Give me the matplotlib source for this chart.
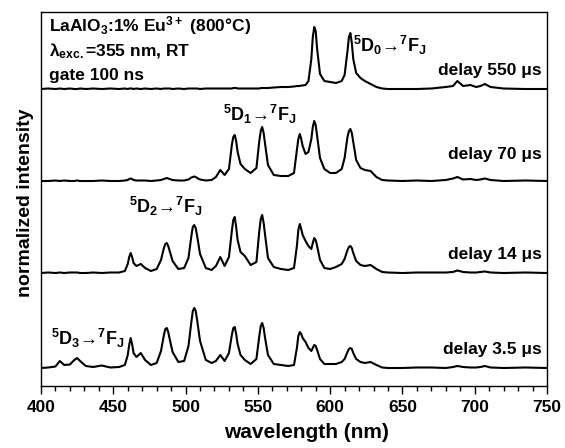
import numpy as np
import matplotlib.pyplot as plt
from matplotlib.ticker import MultipleLocator

plt.rcParams['font.family'] = ['Liberation Sans', 'DejaVu Sans']
plt.rcParams['font.weight'] = 'bold'
plt.rcParams['mathtext.default'] = 'regular'

# wavelength grid (nm), shared by all spectra
wavelength = [400, 405, 410, 413, 416, 420, 423, 425, 427, 431,
              436, 442, 448, 454, 458, 460, 461, 462, 463, 464,
              466, 469, 472, 476, 480, 483, 485, 486, 487, 488,
              489, 491, 495, 499, 502, 504, 505, 506, 507, 508,
              510, 514, 518, 521, 524, 527, 530, 532, 533, 534,
              535, 536, 538, 541, 545, 549, 551, 552, 553, 554,
              555, 557, 561, 566, 571, 575, 577, 578, 579, 580,
              581, 583, 585, 587, 588, 589, 590, 591, 593, 596,
              600, 604, 608, 610, 612, 613, 614, 615, 616, 618,
              621, 624, 628, 632, 636, 640, 650, 660, 670, 680,
              685, 688, 692, 697, 701, 704, 707, 711, 720, 735,
              750]

# normalized intensity (arb. units)
delay_3_5us = [0, 0.5, 1.5, 7, 3, 3.5, 8, 10, 7, 2,
               1, 2.5, 0.5, 1, 3, 13, 23, 30, 24, 15,
               11, 15, 8, 3, 5, 17, 33, 39, 40, 36,
               29, 16, 6, 7, 22, 46, 57, 60, 57, 48,
               27, 8, 5, 7, 13, 7, 15, 33, 40, 41,
               34, 24, 13, 8, 4, 9, 32, 42, 45, 40,
               30, 13, 4, 3, 2, 3, 20, 32, 36, 34,
               30, 26, 20, 17, 20, 23, 22, 18, 9, 4,
               4, 4, 6, 9, 16, 19, 20, 19, 15, 9,
               6, 5, 6, 3, 0.5, 0, 0, 0.5, 0.5, 0,
               1, 2, 1, 0.5, 0.5, 1, 2, 0.5, 0, 0.5,
               0]
delay_14us = [0, 0.5, 0, 0.5, 0, 0.5, 0.5, 0.5, 0, 0,
              0.5, 0, 0.5, 0.5, 2, 9, 16, 20, 16, 10,
              7, 9, 5, 2, 4, 13, 25, 29, 30, 27,
              22, 12, 4, 5, 15, 37, 46, 48, 45, 37,
              19, 5, 3, 7, 16, 7, 16, 42, 53, 56,
              46, 33, 21, 17, 8, 11, 42, 54, 58, 50,
              38, 15, 6, 4, 3, 5, 27, 43, 49, 44,
              38, 32, 27, 24, 30, 35, 33, 27, 13, 5,
              4, 6, 9, 14, 23, 26, 27, 25, 20, 12,
              8, 7, 8, 4, 1, 0.5, 0, 0.5, 0.5, 0.5,
              1, 2.5, 1, 0.5, 0.5, 1, 1.5, 0.5, 0, 0.5,
              0]
delay_70us = [0, 0, 0.5, 0, 0.5, 0, 0, 0.5, 0, 0,
              0, 0.5, 0, 0, 0.5, 1, 2, 2.5, 2, 1,
              0.5, 0.5, 0.5, 0, 0.5, 1, 2, 2.5, 3, 2.5,
              2, 1, 0.5, 0.5, 1.5, 3.5, 4, 4.5, 4, 3,
              1.5, 0.5, 1, 4, 11, 6, 12, 36, 44, 46,
              40, 29, 17, 12, 8, 13, 40, 50, 54, 48,
              37, 16, 6, 5, 5, 8, 31, 42, 47, 42,
              35, 27, 29, 42, 54, 60, 56, 45, 23, 12,
              8, 8, 12, 23, 44, 50, 52, 48, 39, 21,
              13, 11, 10, 4, 1, 0.5, 0, 0.5, 0, 1,
              2.5, 4, 1.5, 2, 1, 1.5, 2.5, 1, 0, 0.5,
              0]
delay_550us = [0, 0.5, 0, 0.5, 0, 0.5, 0, 0, 0.5, 0,
               0.5, 0, 0.5, 0, 0.5, 0, 0.5, 0.5, 0.5, 0,
               0.5, 0, 0.5, 0, 0.5, 0, 0.5, 0.5, 0.5, 0.5,
               0.5, 0, 0.5, 0, 0.5, 0.5, 0.5, 0.5, 0.5, 0.5,
               0, 0.5, 0.5, 0.5, 0.5, 0.5, 0.5, 0.5, 1, 1,
               1, 0.5, 0.5, 0.5, 0.5, 0.5, 0.5, 1, 1, 1,
               1, 1, 1.5, 2, 2, 2.5, 3, 3, 3, 3.5,
               3.5, 4, 8, 30, 52, 62, 58, 40, 15, 8,
               7, 6, 8, 14, 38, 52, 56, 46, 30, 16,
               11, 8, 5, 2, 0.5, 0, 0, 0, 0.5, 2,
               3, 8, 3, 4, 2, 3, 5, 2, 0.5, 0,
               0]

spectra = [delay_3_5us, delay_14us, delay_70us, delay_550us]
delay_labels = ['delay 3.5 μs', 'delay 14 μs', 'delay 70 μs', 'delay 550 μs']
transitions = [r'$^5$D$_3$→$^7$F$_J$', r'$^5$D$_2$→$^7$F$_J$',
               r'$^5$D$_1$→$^7$F$_J$', r'$^5$D$_0$→$^7$F$_J$']

# vertical stacking of the traces and label placement
offsets = [18, 113, 205, 297]
label_y = [32, 126.7, 226.7, 311]
trans_xy = [(406.7, 41), (461, 172.7), (525.6, 265.3), (615.6, 334.3)]

fig = plt.figure(figsize=(5.65, 4.48), dpi=100)
ax = fig.add_axes([0.0726, 0.1384, 0.8955, 0.8348])

for spec, off, lab, ly, tr, txy in zip(spectra, offsets, delay_labels,
                                        label_y, transitions, trans_xy):
    ax.plot(wavelength, np.array(spec) + off, color='black', lw=1.5)
    ax.text(746.3, ly, lab, ha='right', va='baseline', fontsize=12.5,
            fontweight='bold')
    ax.text(txy[0], txy[1], tr, ha='left', va='baseline', fontsize=13,
            fontweight='bold')

ax.text(405.5, 355, r'LaAlO$_3$:1% Eu$^{3+}$ (800°C)', ha='left',
        va='baseline', fontsize=12.5, fontweight='bold')
ax.text(405.5, 329.3, r'λ$_{exc.}$=355 nm, RT', ha='left', va='baseline',
        fontsize=12.5, fontweight='bold')
ax.text(405.5, 306, 'gate 100 ns', ha='left', va='baseline', fontsize=12.5,
        fontweight='bold')

ax.set_xlim(400, 750)
ax.set_ylim(0, 374)
ax.xaxis.set_major_locator(MultipleLocator(50))
ax.xaxis.set_minor_locator(MultipleLocator(10))
ax.set_yticks([])
ax.tick_params(axis='x', which='major', direction='out', length=6,
               width=1, labelsize=12.5, pad=4)
ax.tick_params(axis='x', which='minor', direction='out', length=3.5, width=1)
for lbl in ax.get_xticklabels():
    lbl.set_fontweight('bold')
for sp in ax.spines.values():
    sp.set_linewidth(1.0)

ax.set_xlabel('wavelength (nm)', fontsize=15, fontweight='bold', va='top')
ax.xaxis.set_label_coords(0.524, -0.1)
ax.set_ylabel('normalized intensity', fontsize=14, fontweight='bold')
ax.yaxis.set_label_coords(-0.014, 0.49)

fig.savefig('out.png', dpi=100)
